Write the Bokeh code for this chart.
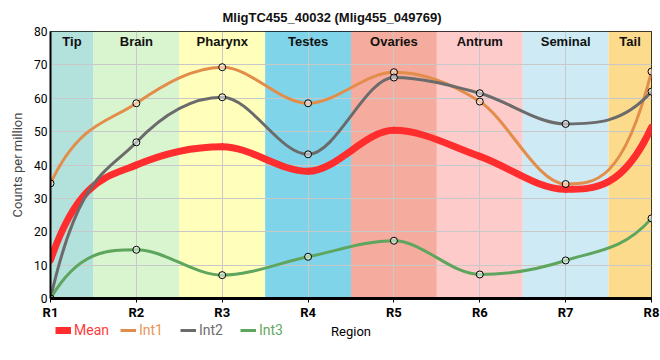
import numpy as np
from bokeh.plotting import figure
from bokeh.layouts import column
from bokeh.models import Range1d, Label, Legend, LegendItem, FixedTicker
from bokeh.embed import file_html
from bokeh.resources import INLINE

# ---- data ----
tick_labels = ["R1", "R2", "R3", "R4", "R5", "R6", "R7", "R8"]
positions = [1, 2, 3, 4, 5, 6, 7, 8]
mean_vals = [11.5, 40.0, 45.5, 38.1, 50.4, 42.6, 32.7, 51.3]
int1_vals = [34.5, 58.5, 69.3, 58.5, 67.8, 59.0, 34.3, 68.0]
int2_vals = [0.0, 46.8, 60.3, 43.2, 66.2, 61.5, 52.3, 62.0]
int3_vals = [0.0, 14.6, 7.0, 12.5, 17.3, 7.2, 11.4, 24.0]

region_names = ["Tip", "Brain", "Pharynx", "Testes", "Ovaries", "Antrum", "Seminal", "Tail"]
region_colors = ["#b3e1dc", "#d9f5d0", "#ffffbb", "#80d4ea", "#f5ab9d", "#fecbcb", "#ceebf5", "#fddb8c"]

series_names = ["Mean", "Int1", "Int2", "Int3"]
series_values = [mean_vals, int1_vals, int2_vals, int3_vals]
line_colors = ["#ff2d2d", "#e38d4b", "#6b6b6b", "#5ea55e"]
text_colors = ["#ff3b3b", "#e8955a", "#6e6e6e", "#62a862"]
line_widths = [7, 3, 3, 3]
has_markers = [False, True, True, True]

title_text = "MligTC455_40032 (Mlig455_049769)"
x_title = "Region"
y_title = "Counts per million"


def tangents(x, y):
    x = np.asarray(x, float)
    y = np.asarray(y, float)
    n = len(x)
    h = np.diff(x)
    s = np.diff(y) / h
    m = np.zeros(n)
    for i in range(1, n - 1):
        s0, s1 = s[i - 1], s[i]
        p = (s0 * h[i] + s1 * h[i - 1]) / (h[i - 1] + h[i])
        m[i] = (np.sign(s0) + np.sign(s1)) * min(abs(s0), abs(s1), 0.5 * abs(p))
    for end, sl, nb in ((0, s[0], m[1]), (n - 1, s[-1], m[-2])):
        t = 3 * sl - nb
        m[end] = t if np.sign(t) == np.sign(sl) else 0.0
    return m


p = figure(width=660, height=322, output_backend="svg", toolbar_location=None,
           x_range=Range1d(1, 8), y_range=Range1d(0, 80),
           min_border_left=50, min_border_right=9, min_border_top=31, min_border_bottom=22)

p.background_fill_color = "white"
p.border_fill_color = "white"
p.outline_line_color = "black"
p.outline_line_width = 1

# title
p.title.text = title_text
p.title.align = "left"
p.title.offset = 172
p.title.standoff = 14
p.title.text_font = "Liberation Sans"
p.title.text_font_style = "bold"
p.title.text_font_size = "13px"
p.title.text_color = "#111111"

# region bands
lefts = [max(positions[0], v - 0.5) for v in positions]
rights = [min(positions[-1], v + 0.5) for v in positions]
p.quad(left=lefts, right=rights, bottom=0, top=80, fill_color=region_colors,
       line_color=None, level="image")

for name, lft, rgt in zip(region_names, lefts, rights):
    p.add_layout(Label(x=(lft + rgt) / 2, y=80, y_offset=-10, text=name,
                       text_align="center", text_baseline="middle",
                       text_font="Liberation Sans", text_font_style="bold",
                       text_font_size="13px", text_color="#111111"))

# grid
p.xgrid.ticker = FixedTicker(ticks=positions)
p.ygrid.ticker = FixedTicker(ticks=list(range(0, 81, 10)))
p.xgrid.grid_line_color = "#c8c8c8"
p.ygrid.grid_line_color = "#c8c8c8"

# axes
p.xaxis.ticker = FixedTicker(ticks=positions)
p.xaxis.major_label_overrides = {v: t for v, t in zip(positions, tick_labels)}
p.xaxis.axis_line_width = 3
p.xaxis.axis_line_color = "black"
p.xaxis.major_tick_out = 4
p.xaxis.major_tick_in = 0
p.xaxis.major_tick_line_width = 1
p.xaxis.minor_tick_line_color = None
p.xaxis.major_label_text_font = "Roboto"
p.xaxis.major_label_text_font_style = "bold"
p.xaxis.major_label_text_font_size = "13px"
p.xaxis.major_label_text_color = "black"
p.xaxis.major_label_standoff = 2

p.yaxis.ticker = FixedTicker(ticks=list(range(0, 81, 10)))
p.yaxis.axis_line_width = 2
p.yaxis.axis_line_color = "black"
p.yaxis.major_tick_out = 0
p.yaxis.major_tick_in = 0
p.yaxis.minor_tick_line_color = None
p.yaxis.major_label_text_font = "Roboto"
p.yaxis.major_label_text_font_size = "12px"
p.yaxis.major_label_text_color = "black"
p.yaxis.major_label_standoff = 3
p.yaxis.axis_label = y_title
p.yaxis.axis_label_text_font = "Roboto"
p.yaxis.axis_label_text_font_style = "normal"
p.yaxis.axis_label_text_font_size = "13px"
p.yaxis.axis_label_standoff = 6

for name, vals, color, lw in zip(series_names, series_values, line_colors, line_widths):
    x = np.asarray(positions, float)
    y = np.asarray(vals, float)
    m = tangents(x, y)
    h = np.diff(x)
    p.bezier(x0=x[:-1], y0=y[:-1], x1=x[1:], y1=y[1:],
             cx0=x[:-1] + h / 3, cy0=y[:-1] + m[:-1] * h / 3,
             cx1=x[1:] - h / 3, cy1=y[1:] - m[1:] * h / 3,
             line_color=color, line_width=lw, line_cap="round")

for vals, mk in zip(series_values, has_markers):
    if mk:
        p.scatter(x=positions, y=vals, size=7, fill_color="white", fill_alpha=0.5,
                  line_color="black", line_width=1)

# ---- legend row (second figure sharing the x range; its y range lies below all data) ----
lg = figure(width=660, height=38, output_backend="svg", toolbar_location=None,
            x_range=p.x_range, y_range=Range1d(-2, -1),
            x_axis_location=None, y_axis_location=None,
            min_border_left=50, min_border_right=9, min_border_top=0, min_border_bottom=0)
lg.grid.visible = False
lg.outline_line_color = None
lg.background_fill_color = "white"
lg.border_fill_color = "white"

legend_offsets = [5, 70, 130, 190]
for name, vals, color, lw, tc, off in zip(series_names, series_values, line_colors,
                                          line_widths, text_colors, legend_offsets):
    proxy = lg.line(x=positions, y=vals, line_color=color, line_width=lw)
    leg = Legend(items=[LegendItem(label=name, renderers=[proxy])],
                 location=(off, 22), orientation="horizontal",
                 border_line_color=None, background_fill_alpha=0,
                 padding=0, margin=0, spacing=0,
                 glyph_width=16, glyph_height=14, label_height=14,
                 label_standoff=3, label_text_font="Roboto",
                 label_text_font_size="14px", label_text_color=tc)
    lg.add_layout(leg, "center")

lg.add_layout(Label(x=(positions[0] + positions[-1]) / 2, y=-1, y_offset=-9, text=x_title,
                    text_align="center", text_baseline="middle",
                    text_font="Roboto", text_font_size="13px", text_color="black"))

open("out.html", "w").write(file_html(column(p, lg, spacing=0), INLINE))
